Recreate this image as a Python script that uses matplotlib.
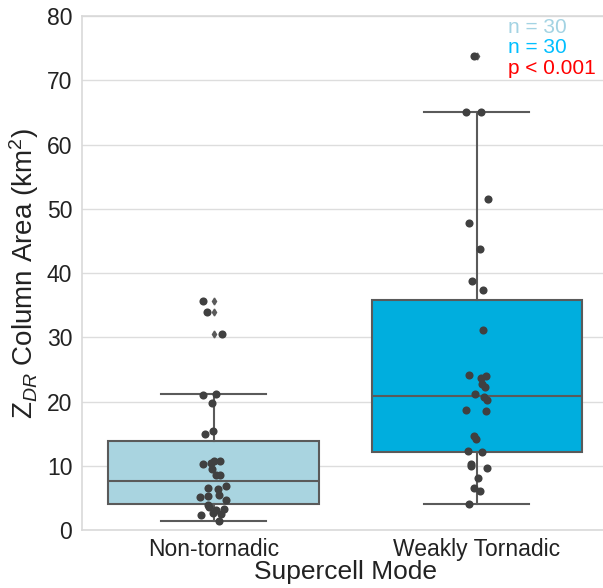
import matplotlib
matplotlib.use('Agg')
import matplotlib.pyplot as plt
import numpy as np

plt.rcParams['font.family'] = ['Liberation Sans', 'DejaVu Sans']
plt.rcParams['mathtext.fontset'] = 'custom'
plt.rcParams['mathtext.rm'] = 'Liberation Sans'
plt.rcParams['mathtext.it'] = 'Liberation Sans:italic'

# ZDR column area (km^2) per supercell
categories = ['Non-tornadic', 'Weakly Tornadic']
non_tornadic = [35.6, 34.0, 30.5, 21.1, 21.0, 19.7, 15.4, 15.0, 10.7, 10.3,
                10.5, 10.7, 9.5, 8.5, 8.5, 6.8, 6.5, 6.4, 5.5, 5.3,
                5.1, 4.6, 3.9, 3.6, 3.3, 3.1, 2.7, 2.5, 2.3, 1.4]
weakly_tornadic = [73.8, 65.0, 65.1, 51.6, 47.8, 43.8, 38.8, 37.3, 31.2, 24.2,
                   23.9, 23.6, 22.7, 22.2, 21.1, 20.7, 20.3, 18.7, 18.6, 14.7,
                   14.1, 12.3, 12.1, 10.2, 9.7, 9.9, 8.1, 6.5, 6.1, 4.0]
yticks = [0, 10, 20, 30, 40, 50, 60, 70, 80]
notes = ['n = 30', 'n = 30', 'p < 0.001']

box_colors = ['#A9D4E0', '#00AEDE']
note_colors = ['#A3D3E3', '#00BFFF', '#FF0000']
line_color = '#5a5a5a'

fig = plt.figure(figsize=(6.03, 5.88), dpi=100)
ax = fig.add_axes([0.136, 0.0986, 0.873, 0.874])

data = [non_tornadic, weakly_tornadic]
pos = np.arange(len(categories))
bp = ax.boxplot(data, positions=pos, widths=0.8, patch_artist=True,
                whis=1.5, zorder=2,
                medianprops=dict(color=line_color, linewidth=1.5),
                whiskerprops=dict(color=line_color, linewidth=1.5),
                capprops=dict(color=line_color, linewidth=1.5),
                boxprops=dict(edgecolor=line_color, linewidth=1.5),
                flierprops=dict(marker='d', markerfacecolor=line_color,
                                markeredgecolor=line_color, markersize=3.5))
for patch, c in zip(bp['boxes'], box_colors):
    patch.set_facecolor(c)
for cap in bp['caps']:
    mid = cap.get_xdata().mean()
    cap.set_xdata([mid - 0.2, mid + 0.2])

rng = np.random.default_rng(3)
for i, vals in enumerate(data):
    jitter = rng.uniform(-0.05, 0.05, len(vals))
    ax.scatter(i + jitter, vals, s=34, color='#404040', zorder=3,
               linewidths=0)

ax.set_xlim(-0.5, 1.5)
ax.set_ylim(0, 80)
ax.set_yticks(yticks)
ax.set_xticks(pos)
ax.set_xticklabels(categories)
ax.tick_params(axis='both', length=0, labelsize=16.5, colors='#222222', pad=7)
ax.tick_params(axis='x', pad=6)
ax.grid(True, axis='y', color='#dddddd', linewidth=1, zorder=0)
ax.set_axisbelow(True)
for sp in ax.spines.values():
    sp.set_color('#d9d9d9')
    sp.set_linewidth(1.2)

ax.set_ylabel('Z$_{DR}$ Column Area (km$^{2}$)', fontsize=20,
              color='#222222', labelpad=4)
ax.set_xlabel('Supercell Mode', fontsize=19, color='#222222', labelpad=-1)

for note, c, y in zip(notes, note_colors, [78.3, 75.1, 71.8]):
    ax.text(1.12, y, note, color=c, fontsize=15, ha='left', va='center')

fig.savefig('out.png', dpi=100)
